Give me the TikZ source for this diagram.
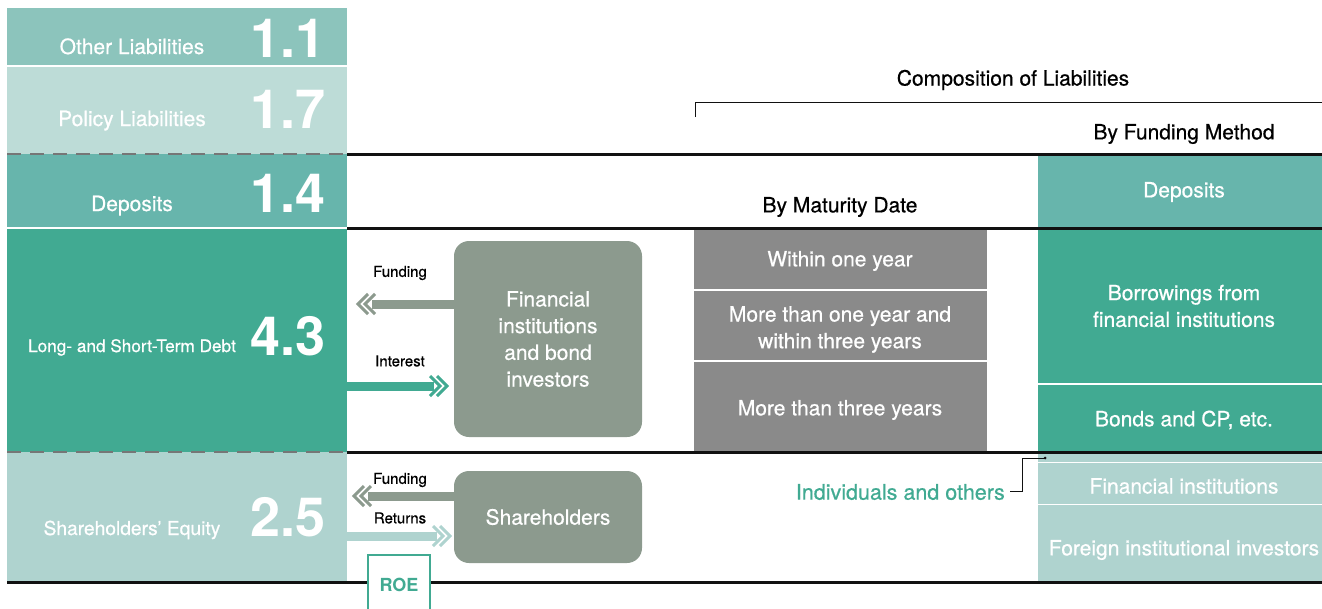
\documentclass[tikz,border=0pt]{standalone}
\usepackage{fontspec}
\setmainfont{TeX Gyre Heros}[FakeBold=0.6]
\newfontfamily\numfont{TeX Gyre Heros Bold}
\usetikzlibrary{calc}
\definecolor{cOther}{HTML}{8CC4BC}
\definecolor{cPolicy}{HTML}{BDDCD7}
\definecolor{cDep}{HTML}{67B5AC}
\definecolor{cDebt}{HTML}{41AA92}
\definecolor{cEq}{HTML}{AFD3CF}
\definecolor{cMid}{HTML}{8A8A8A}
\definecolor{cBox}{HTML}{8C9A8E}
\definecolor{cDash}{HTML}{767676}
\definecolor{cLine}{HTML}{111111}
\newcommand\chevL[2]{%
  \draw[#2,line width=3pt] ($(#1)+(10,-10)$) -- (#1) -- ($(#1)+(10,10)$);
  \draw[#2,line width=3pt] ($(#1)+(17,-10)$) -- ($(#1)+(7,0)$) -- ($(#1)+(17,10)$);}
\newcommand\chevR[2]{%
  \draw[#2,line width=3pt] ($(#1)+(-10,-10)$) -- (#1) -- ($(#1)+(-10,10)$);
  \draw[#2,line width=3pt] ($(#1)+(-17,-10)$) -- ($(#1)+(-7,0)$) -- ($(#1)+(-17,10)$);}
\begin{document}
\begin{tikzpicture}[x=1pt,y=-1pt,
  lab/.style={text=white,inner sep=0pt,anchor=base,font=\fontsize{21}{25}\selectfont},
  num/.style={text=white,inner sep=0pt,anchor=base east,font=\fontsize{54}{54}\selectfont\numfont},
  wtxt/.style={text=white,inner sep=0pt,align=center,font=\fontsize{21}{26.7}\selectfont},
  btxt/.style={text=black,inner sep=0pt,font=\fontsize{21}{25}\selectfont},
  small/.style={text=black,inner sep=0pt,font=\fontsize{15}{18}\selectfont},
  gbox/.style={fill=cBox,rounded corners=15pt,text=white,align=center,inner sep=0pt,
    font=\fontsize{21}{26.7}\selectfont,minimum width=188pt},
  blk/.style={cLine,line width=3pt},
  dsh/.style={cDash,line width=2pt,dash pattern=on 14pt off 9pt},
  sep/.style={white,line width=1.6pt},
  shaft/.style={line width=9pt}]
\useasboundingbox (0,0) rectangle (1322,608);

% ---------- left column ----------
\fill[cOther] (7,8) rectangle (347,65);
\fill[cPolicy] (7,66.5) rectangle (347,154);
\fill[cDep] (7,154) rectangle (347,227);
\fill[cDebt] (7,229) rectangle (347,452);
\fill[cEq] (7,452) rectangle (347,582);
\draw[dsh] (7,154) -- (347,154);
\draw[dsh] (7,452) -- (347,452);

\node[lab] (lOther) at (132,54) {Other Liabilities};
\node[num] (nOther) at (326,57) {1.1};
\node[lab] (lPolicy) at (132,126) {Policy Liabilities};
\node[num] (nPolicy) at (326,128) {1.7};
\node[lab] (lDep) at (132,211) {Deposits};
\node[num] (nDep) at (326,212) {1.4};
\node[lab,font=\fontsize{17.2}{20}\selectfont] (lDebt) at (132,352) {Long- and Short-Term Debt};
\node[num] (nDebt) at (326,355) {4.3};
\node[lab,font=\fontsize{19.2}{22}\selectfont] (lEq) at (132,535) {Shareholders’ Equity};
\node[num] (nEq) at (326,536) {2.5};

% ---------- middle grey column ----------
\fill[cMid] (694,228) rectangle (987,452);
\draw[sep] (694,290) -- (987,290);
\draw[sep] (694,361) -- (987,361);
\node[wtxt] (m1) at (840,261) {Within one year};
\node[wtxt] (m2) at (840,329.5) {More than one year and\\within three years};
\node[wtxt] (m3) at (840,410) {More than three years};

% ---------- right column ----------
\fill[cDep] (1038,154) rectangle (1322,228);
\fill[cDebt] (1038,228) rectangle (1322,452);
\draw[sep] (1038,384) -- (1322,384);
\fill[cEq] (1038,452) rectangle (1322,582);
\draw[sep] (1038,462.5) -- (1322,462.5);
\draw[sep] (1038,504.5) -- (1322,504.5);
\node[wtxt] (r1) at (1184,192) {Deposits};
\node[wtxt] (r2) at (1184,306) {Borrowings from\\financial institutions};
\node[wtxt] (r3) at (1184,420) {Bonds and CP, etc.};
\node[wtxt] (r4) at (1184,486) {Financial institutions};
\node[wtxt] (r5) at (1184,550) {Foreign institutional investors};

% ---------- horizontal rules ----------
\draw[blk] (347,154) -- (1322,154);
\draw[blk] (347,228) -- (1322,228);
\draw[blk] (347,452) -- (1322,452);
\draw[blk] (7,582.5) -- (1322,582.5);

% ---------- headings ----------
\node[btxt] (hComp) at (1013,80) {Composition of Liabilities};
\draw[cLine,line width=1pt] (695,117) -- (695,102) -- (1322,102);
\node[btxt] (hFund) at (1184,134) {By Funding Method};
\node[btxt] (hMat) at (840,207) {By Maturity Date};

% ---------- counterpart boxes ----------
\node[gbox,minimum height=196pt] (fi) at (548,339) {Financial\\institutions\\and bond\\investors};
\node[gbox,minimum height=92pt] (sh) at (548,517) {Shareholders};

% ---------- arrows ----------
\coordinate (fundTip1) at (358,304);
\coordinate (fundEnd1) at (372,304);
\draw[cBox,shaft] (fi.west |- fundEnd1) -- (fundEnd1);
\chevL{fundTip1}{cBox}
\node[small] (tFund1) at (400,273) {Funding};

\coordinate (intStart) at (347,386);
\coordinate (intTip) at (447,386);
\coordinate (intEnd) at (434,386);
\draw[cDebt,shaft] (intStart) -- (intEnd);
\chevR{intTip}{cDebt}
\node[small] (tInt) at (400,361) {Interest};

\coordinate (fundTip2) at (354,496);
\coordinate (fundEnd2) at (368,496);
\draw[cBox,shaft] (sh.west |- fundEnd2) -- (fundEnd2);
\chevL{fundTip2}{cBox}
\node[small] (tFund2) at (400,480) {Funding};

\coordinate (retStart) at (347,536);
\coordinate (retTip) at (450,536);
\coordinate (retEnd) at (437,536);
\draw[cEq,shaft] (retStart) -- (retEnd);
\chevR{retTip}{cEq}
\node[small] (tRet) at (400,518) {Returns};

% ---------- ROE ----------
\node[draw=cDebt,line width=2.5pt,fill=white,minimum width=62pt,minimum height=60pt,
  inner sep=0pt,text=cDebt,font=\fontsize{18}{20}\selectfont\numfont] (roe) at (399,585) {ROE};

% ---------- individuals ----------
\node[text=cDebt,inner sep=0pt,anchor=east,font=\fontsize{21.5}{24}\selectfont] (ind) at (1005,492) {Individuals and others};
\coordinate (indDot) at (1045,458);
\draw[cLine,line width=1pt] ($(ind.east)+(5,-1)$) -- (1022,491) -- (1022,458) -- (indDot);
\fill[cLine] (indDot) circle (1.5);
\end{tikzpicture}
\end{document}
